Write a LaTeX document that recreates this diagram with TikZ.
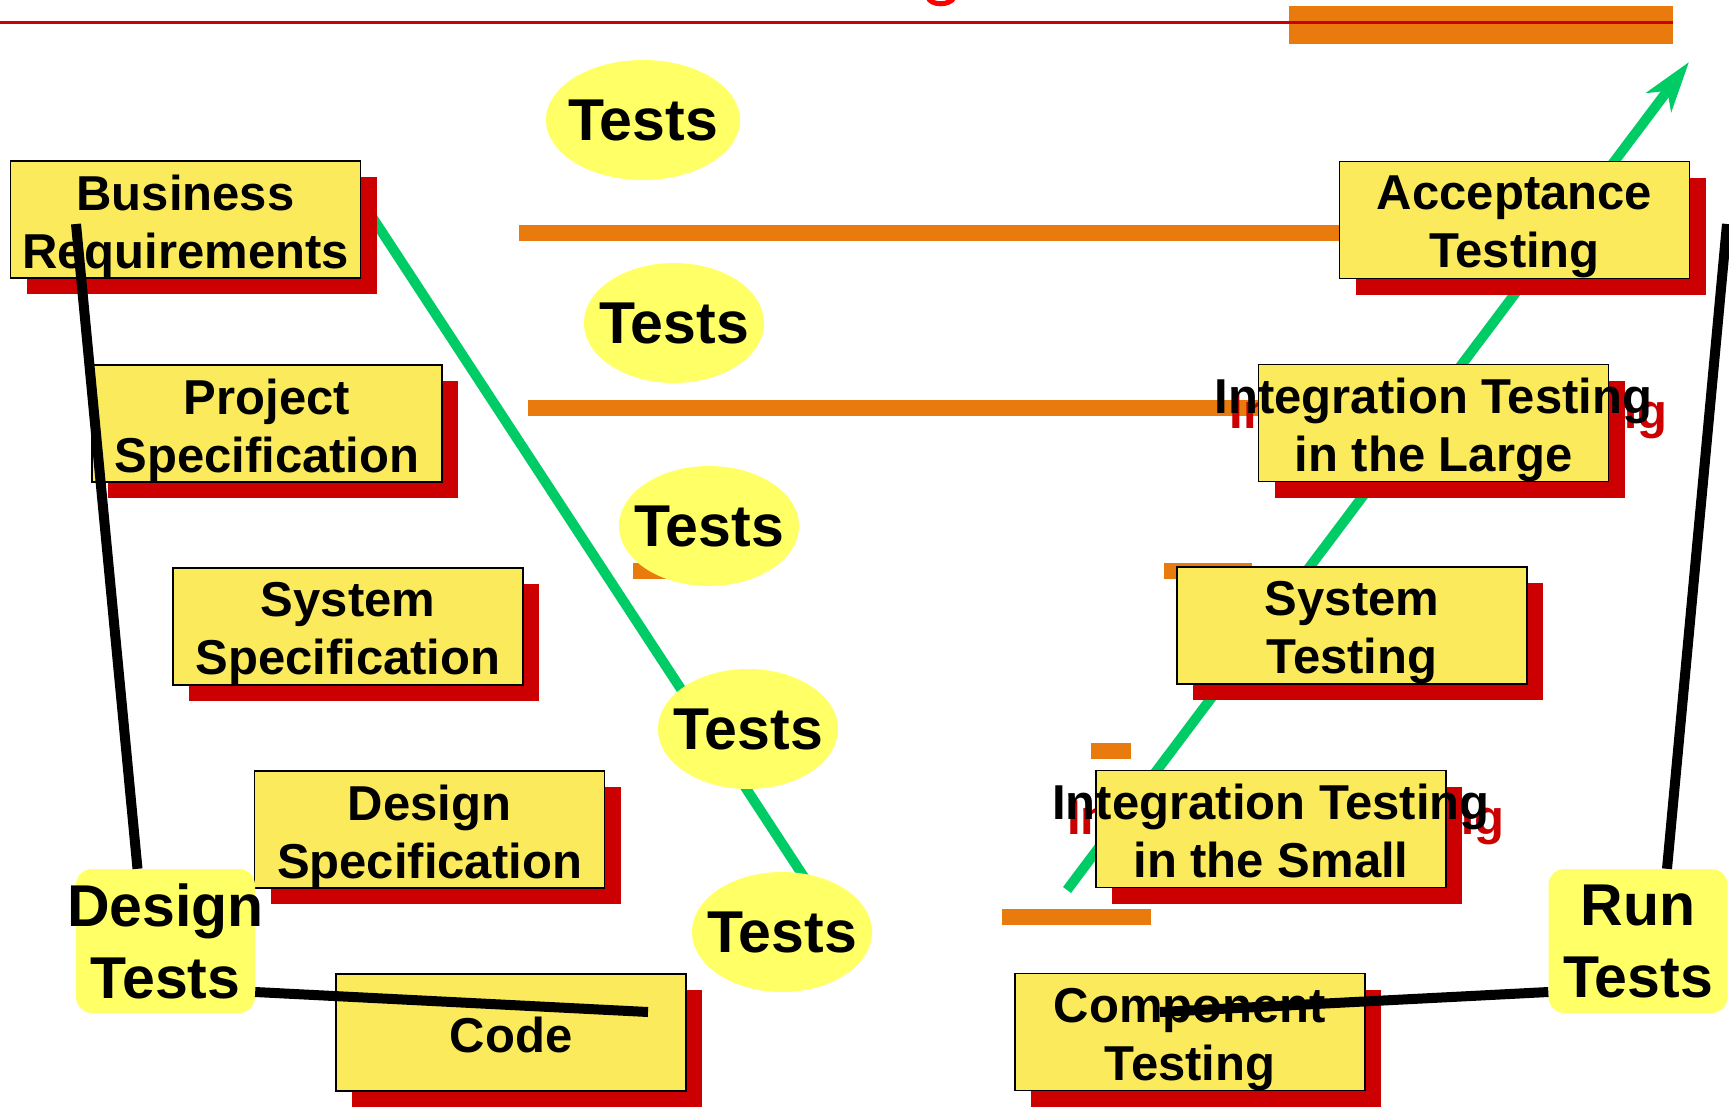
\documentclass[tikz,border=0pt]{standalone}
\usepackage{fontspec}
\setmainfont{Liberation Sans}
\usepackage{tikz}
\usetikzlibrary{arrows.meta,shadows,shapes.geometric,calc}

\definecolor{boxyellow}{RGB}{251,234,91}
\definecolor{testyellow}{RGB}{255,255,102}
\definecolor{shred}{RGB}{204,0,0}
\definecolor{barorange}{RGB}{233,122,14}
\definecolor{vgreen}{RGB}{0,204,102}

\begin{document}
\begin{tikzpicture}[
  x=1pt, y=-1pt,
  phase/.style={draw=black, line width=1.5pt, fill=boxyellow, minimum width=350pt, minimum height=117pt, inner sep=0pt,
    drop shadow={shadow xshift=16pt, shadow yshift=-16pt, fill=shred, opacity=1}},
  phasetxt/.style={font=\fontsize{49}{58}\selectfont\bfseries, align=center, inner sep=0pt, text depth=0pt, yshift=-2pt},
  ghost/.style={phasetxt, text=shred},
  tests/.style={ellipse, fill=testyellow, minimum width=180pt, minimum height=120pt, inner xsep=-16pt, inner ysep=0pt,
    font=\fontsize{59}{70}\selectfont\bfseries},
  todo/.style={rounded corners=16pt, fill=testyellow, minimum width=179pt, minimum height=144pt, inner sep=0pt},
  todotxt/.style={font=\fontsize{59}{72}\selectfont\bfseries, align=center, inner sep=0pt},
  bar/.style={fill=barorange},
  vline/.style={draw=vgreen, line width=10pt},
  link/.style={draw=black, line width=10pt},
]
\useasboundingbox (0,0) rectangle (1729,1106);

% title rule (title itself is cut off)
\fill[bar] (1289,6) rectangle (1673,44);
\draw[shred, line width=3.5pt] (0,22.5) -- (1673,22.5);
\draw[red, line width=5pt] (928,-3) .. controls (930,6) and (951,6) .. (954,-3);

% orange bars
\fill[bar] (519,225) rectangle (1345,241);
\fill[bar] (528,400) rectangle (1262,416);
\fill[bar] (633,563) rectangle (700,579);
\fill[bar] (1164,563) rectangle (1252,579);
\fill[bar] (1091,743) rectangle (1131,759);
\fill[bar] (1002,909) rectangle (1151,925);

% the V
\coordinate (vtop) at (361,200);
\coordinate (vbot) at (819,900);
\coordinate (vstart) at (1067,890);
\coordinate (vend) at (1689,62);
\draw[vline] (vtop) -- (vbot);
\draw[vline, -{Stealth[length=50pt, width=31pt, inset=14pt]}] (vstart) -- (vend);

% tests between the levels
\node[tests, minimum width=194pt] (t1) at (643,120) {Tests};
\node[tests] (t2) at (674,323) {Tests};
\node[tests] (t3) at (709,526) {Tests};
\node[tests] (t4) at (748,729) {Tests};
\node[tests] (t5) at (782,932) {Tests};

% left side
\node[phase] (br) at (185.5,219.5) {};
\node[phasetxt] (br-t) at (br) {Business\\Requirements};
\node[phase] (ps) at (267,423.5) {};
\node[phasetxt] (ps-t) at (ps) {Project\\Specification};
\node[phase] (ss) at (348,626.5) {};
\node[phasetxt] (ss-t) at (ss) {System\\Specification};
\node[phase] (ds) at (429.5,829.5) {};
\node[phasetxt] (ds-t) at (ds) {Design\\Specification};
\node[phase] (code) at (511,1032.5) {};
\node[phasetxt] (code-t) at (code) {Code};

% right side
\node[ghost] (itl-g) at ($(1433.5,423)+(15,15)$) {Integration Testing\\in the Large};
\node[ghost] (its-g) at ($(1271,829)+(15,15)$) {Integration Testing\\in the Small};
\node[phase] (at) at (1514.5,220) {};
\node[phasetxt] (at-t) at (at) {Acceptance\\Testing};
\node[phase] (itl) at (1433.5,423) {};
\node[phasetxt] (itl-t) at (itl) {Integration Testing\\in the Large};
\node[phase] (st) at (1352,625.5) {};
\node[phasetxt] (st-t) at (st) {System\\Testing};
\node[phase] (its) at (1271,829) {};
\node[phasetxt] (its-t) at (its) {Integration Testing\\in the Small};
\node[phase] (ct) at (1190,1032) {};
\node[phasetxt] (ct-t) at (ct) {Component\\Testing};

% design tests / run tests
\coordinate (brq) at (76,224);
\coordinate (codeq) at (648,1012);
\coordinate (compq) at (1160,1012);
\coordinate (topq) at (1727,224);
\node[todo] (dt) at (165.5,941) {};
\node[todo] (rt) at (1638,941) {};
\draw[link] ([xshift=-28pt]dt.north) -- (brq);
\draw[link] ([yshift=-51pt]dt.east) -- (codeq);
\draw[link] ([yshift=-51pt]rt.west) -- (compq);
\draw[link] ([xshift=29pt]rt.north) -- (topq);
\node[todotxt] (dt-t) at (dt) {Design\\Tests};
\node[todotxt] (rt-t) at (rt) {Run\\Tests};
\end{tikzpicture}
\end{document}
